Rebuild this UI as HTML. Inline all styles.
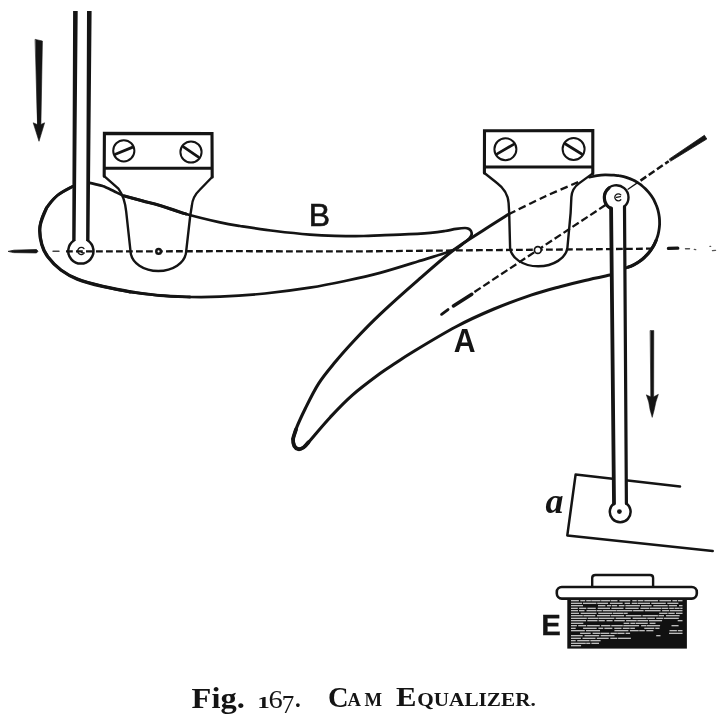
<!DOCTYPE html>
<html><head><meta charset="utf-8"><title>Fig. 167. Cam Equalizer</title>
<style>html,body{margin:0;padding:0;background:#fff}svg{display:block;will-change:transform}</style></head>
<body>
<svg width="724" height="715" viewBox="0 0 724 715">
<g fill="none" stroke="#141414" stroke-width="2.4" stroke-linecap="round" stroke-linejoin="round">
<path d="M72.7,186.4 C70.1,187.9 61.7,191.9 57.3,195.5 C52.9,199.1 49.3,203.0 46.4,208.2 C43.5,213.3 40.8,220.3 40.0,226.4 C39.2,232.5 40.4,239.3 41.8,244.5 C43.2,249.7 45.0,253.1 48.2,257.3 C51.4,261.6 56.0,266.4 60.9,270.0 C65.8,273.6 70.3,276.4 77.3,279.1 C84.3,281.8 93.9,284.3 102.7,286.4 C111.5,288.5 120.5,290.3 130.0,291.8 C139.6,293.3 150.0,294.6 160.0,295.5 C170.0,296.4 180.0,296.8 190.0,297.0 C200.0,297.2 207.5,297.3 220.0,296.7 C232.5,296.1 250.0,295.0 265.0,293.5 C280.0,292.0 296.5,289.8 309.8,287.7 C323.1,285.6 333.3,283.5 345.0,281.0 C356.7,278.5 367.9,276.1 380.0,272.9 C392.1,269.6 405.6,265.3 417.8,261.5 C430.0,257.7 445.5,253.2 453.0,250.2 C460.5,247.2 460.3,245.6 463.0,243.6 C465.7,241.6 467.9,239.8 469.3,238.3 C470.7,236.8 471.3,235.8 471.6,234.6 C471.9,233.4 471.5,232.0 471.0,231.0 C470.5,230.0 469.6,229.2 468.6,228.7 C467.6,228.2 467.1,228.0 465.0,228.0 C462.9,228.0 459.5,228.4 456.2,228.9 C452.9,229.4 449.3,230.3 445.0,231.0 C440.7,231.7 437.9,232.2 430.4,232.8 C422.9,233.4 408.4,234.2 400.0,234.6 C391.6,235.0 386.1,235.1 380.0,235.3 C373.9,235.5 371.1,235.9 363.6,236.0 C356.1,236.1 344.0,236.0 335.0,235.8 C326.0,235.6 319.8,235.4 309.8,234.6 C299.8,233.8 286.6,232.4 275.0,231.0 C263.4,229.6 249.2,227.4 240.0,226.0 C230.8,224.6 229.0,224.4 220.0,222.4 C211.0,220.4 196.0,216.8 186.0,214.0 C176.0,211.2 167.2,207.7 160.0,205.5 C152.8,203.3 148.6,202.5 142.7,200.9 C136.8,199.3 129.3,197.8 124.5,196.1 C119.7,194.4 117.2,192.7 113.6,191.0 C110.0,189.3 105.8,187.2 102.7,186.1 C99.6,184.9 97.4,184.7 95.0,184.1 C92.6,183.5 89.3,182.9 88.2,182.7" stroke-width="2.7"/>
<path d="M46.4,208.2 C45.3,211.2 40.8,220.3 40.0,226.4 C39.2,232.5 40.4,239.3 41.8,244.5 C43.2,249.7 45.0,253.1 48.2,257.3 C51.4,261.6 56.0,266.4 60.9,270.0 C65.8,273.6 70.3,276.4 77.3,279.1 C84.3,281.8 93.9,284.3 102.7,286.4 C111.5,288.5 125.5,290.9 130.0,291.8" stroke-width="3.3"/>
<path d="M72.7,186.4 C70.1,187.9 61.7,191.9 57.3,195.5 C52.9,199.1 48.2,206.1 46.4,208.2" stroke-width="2.9"/>
<path d="M130.0,291.8 C135.0,292.4 150.0,294.6 160.0,295.5 C170.0,296.4 185.0,296.8 190.0,297.0" stroke-width="2.9"/>
<path d="M186.0,214.0 C181.7,212.6 167.2,207.7 160.0,205.5 C152.8,203.3 148.6,202.5 142.7,200.9 C136.8,199.3 127.5,196.9 124.5,196.1" stroke-width="3.1"/>
<path d="M293.1,439.0 C293.7,437.0 294.8,432.2 296.8,427.2 C298.8,422.2 301.6,416.1 305.2,408.8 C308.8,401.5 313.6,391.4 318.6,383.6 C323.6,375.8 329.4,369.1 335.4,361.8 C341.4,354.5 347.3,347.9 354.7,340.0 C362.1,332.1 369.5,324.3 380.0,314.4 C390.5,304.5 405.6,291.0 417.8,280.4 C430.0,269.8 441.7,259.1 453.0,250.5 C464.3,241.9 476.4,234.8 485.7,228.8 C495.0,222.8 504.8,216.7 508.6,214.3" stroke-width="3.1"/>
<path d="M508.6,214.3 C514.7,211.3 533.3,201.9 545.0,196.5 C556.7,191.1 573.3,184.2 579.0,181.8" stroke-dasharray="7.5 4" stroke-width="2.3" stroke-linecap="butt"/>
<path d="M589.5,177.2 C590.8,176.9 594.4,176.0 597.0,175.6 C599.6,175.2 602.2,174.9 605.0,174.8 C607.8,174.7 611.6,175.1 613.9,175.2 C616.2,175.4 617.2,175.4 618.8,175.7 C620.4,175.9 622.1,176.2 623.7,176.6 C625.3,177.0 626.9,177.5 628.4,178.1 C630.0,178.6 631.5,179.3 633.0,180.0 C634.5,180.7 635.9,181.5 637.3,182.4 C638.7,183.3 640.1,184.2 641.4,185.2 C642.7,186.3 643.9,187.4 645.1,188.5 C646.3,189.7 647.4,190.9 648.5,192.1 C649.6,193.4 650.6,194.7 651.5,196.1 C652.4,197.5 653.3,198.9 654.1,200.3 C654.8,201.8 655.5,203.3 656.1,204.8 C656.8,206.4 657.3,207.9 657.8,209.5 C658.2,211.1 658.6,212.7 658.9,214.4 C659.2,216.0 659.4,217.6 659.5,219.3 C659.6,220.9 659.6,222.6 659.6,224.3 C659.5,225.9 659.4,227.6 659.1,229.2 C658.9,230.8 658.6,232.5 658.2,234.1 C657.8,235.7 657.3,237.3 656.7,238.8 C656.2,240.4 655.5,241.9 654.8,243.4 C654.1,244.9 653.3,246.3 652.4,247.7 C651.5,249.1 650.6,250.5 649.6,251.8 C648.5,253.1 647.4,254.3 646.3,255.5 C645.1,256.7 643.9,257.8 642.7,258.9 C641.4,260.0 640.1,261.0 638.7,261.9 C637.3,262.8 635.9,263.7 634.5,264.5 C633.0,265.2 631.5,265.9 630.0,266.5 C628.4,267.2 626.0,267.9 625.3,268.2" stroke-width="2.8"/>
<path d="M656.1,240.4 C655.8,241.1 654.8,243.4 654.1,244.9 C653.3,246.3 652.4,247.7 651.5,249.1 C650.6,250.5 649.6,251.8 648.5,253.1 C647.4,254.3 646.3,255.5 645.1,256.7 C643.9,257.8 642.7,258.9 641.4,260.0 C640.1,261.0 638.7,261.9 637.3,262.8 C635.9,263.7 634.5,264.5 633.0,265.2 C631.5,265.9 629.2,266.8 628.4,267.1" stroke-width="3.2"/>
<path d="M610.0,275.0 C605.8,275.9 593.3,278.4 585.0,280.4 C576.7,282.3 569.0,284.2 560.0,286.7 C551.0,289.1 542.1,291.3 531.0,295.1 C519.9,298.9 505.9,304.0 493.3,309.3 C480.7,314.6 468.9,319.9 455.5,327.0 C442.1,334.1 422.6,346.0 412.7,352.0 C402.8,358.0 401.4,359.2 396.0,362.8 C390.6,366.4 387.3,368.2 380.0,373.6 C372.7,379.0 360.4,388.1 352.1,395.4 C343.8,402.7 337.6,409.4 330.3,417.2 C323.0,425.0 313.0,437.2 308.5,442.3 C304.0,447.4 305.2,446.4 303.5,447.5 C301.8,448.6 300.0,449.4 298.5,449.2 C297.0,448.9 295.2,447.7 294.3,446.0 C293.4,444.3 293.3,440.2 293.1,439.0" stroke-width="3.1"/>
<path d="M296.0,429.5 C295.5,431.1 293.4,436.2 293.1,439.0 C292.8,441.8 293.4,444.3 294.3,446.0 C295.2,447.7 297.0,448.9 298.5,449.2 C300.0,449.4 301.8,448.6 303.5,447.5 C305.2,446.4 307.7,443.2 308.5,442.3" stroke-width="3.8"/>
<path d="M104.2,176.2 L104.4,133.4 L212,133.6 L212.2,177 M104.2,168.2 L212.2,168.2" stroke-width="3.1" stroke-linejoin="miter"/>
<path d="M212.2,177 L199.6,190 C194.3,195 192.3,200 191.8,206 L190.2,216 L186,252.8 C184.5,263 173,271 158.3,271 C143.5,271 132,263 130.7,252.8 L126.2,211.7 C125.4,203.5 123,195 118.4,188.6 L104.2,176.2" stroke-width="2.4"/>
<path d="M484.4,173 L484.5,130.8 L592.8,130.6 L592.8,173.4 M484.4,167 L592.8,167" stroke-width="3.1" stroke-linejoin="miter"/>
<path d="M592.8,173.4 L579,183.4 C574,187 571.8,191 571.4,197 L570.6,213.2 L567.4,247.8 C566.2,258 553.5,266.3 538.2,266.3 C523,266.3 511,258 510.1,247.8 L509.2,213.2 L508.6,203 C508,194 503,187.5 496.7,182.8 L484.4,173" stroke-width="2.4"/>
<circle cx="123.8" cy="150.8" r="10.6" stroke-width="2"/><path d="M115.4,154.2 L132.2,147.4" stroke-width="2.8"/>
<circle cx="191.0" cy="152.0" r="10.6" stroke-width="2"/><path d="M183.5,146.8 L198.5,157.2" stroke-width="2.8"/>
<circle cx="505.4" cy="149.2" r="11.0" stroke-width="2"/><path d="M497.2,153.9 L513.6,144.4" stroke-width="2.8"/>
<circle cx="573.6" cy="149.0" r="11.0" stroke-width="2"/><path d="M565.5,144.0 L581.7,154.0" stroke-width="2.8"/>
<path d="M680,486.5 L575.6,474.6 L567.3,535.4 L712.7,551" stroke-width="2.5"/>
<path d="M75.4,11 L73.9,240.5 A12.6,12.6 0 1 0 87.8,240.5 L89.3,11 Z" fill="#fff" stroke="none"/>
<path d="M73.1,11 L77.7,11 L75.6,241 L72.2,241 Z M87,11 L91.6,11 L89.5,241 L86.1,241 Z" fill="#141414" stroke="none"/>
<path d="M73.9,240.5 A12.6,12.6 0 1 0 87.8,240.5" stroke-width="2.5"/>
<path d="M84,248.6 A3.6,3.6 0 1 0 84.3,253 L81.5,252.6" stroke-width="1.3"/>
<path d="M614,503.5 L611.1,208.5 A12.2,12.2 0 1 1 624.5,206.5 L626.4,503.5 A10.4,10.4 0 1 1 614,503.5 Z" fill="#fff" stroke="none"/>
<path d="M611.1,208.5 L614,503.5" stroke-width="3.8"/>
<path d="M624.5,206.5 L626.4,503.5" stroke-width="3.2"/>
<path d="M611.1,208.5 A12.2,12.2 0 1 1 624.5,206.5" stroke-width="2.4"/>
<path d="M611.1,208.5 A12.2,12.2 0 0 1 609,188" stroke-width="3.2"/>
<path d="M614,503.5 A10.4,10.4 0 1 0 626.4,503.5" stroke-width="2.5"/>
<path d="M620.8,194.9 A3.5,3.5 0 1 0 620.8,199.8 M616.5,197.4 L620.4,196.6" stroke-width="1.3"/>
<circle cx="619.4" cy="511.6" r="2.4" fill="#141414" stroke="none"/>
<path d="M8.5,251.3 L14,250.2 L36.5,249.6 L38,251.2 L36.5,252.9 L14,252.6 Z" fill="#141414" stroke-width="0.8"/>
<path d="M53,251.3 L59,251.3" stroke-width="1.4" stroke="#444"/>
<path d="M66,251.4 L230,251.2 L360,251.4 L480,250.2 L590,249.3 L655,248.6" stroke-dasharray="6.8 3.2" stroke-width="2.3" stroke-linecap="butt"/>
<path d="M668.4,248.4 L677.8,248.2" stroke-width="3.2"/>
<path d="M685.5,248.8 L689.5,248.8 M694.3,249.4 L695.7,249.6 M710,246.4 L710.6,246.4 M712.5,250.6 L715.5,250.4" stroke-width="1.4" stroke="#555"/>
<path d="M441.6,314.3 L448,309.6" stroke-width="2.9"/>
<path d="M453.4,305.9 L471.8,294.3" stroke-width="3.5"/>
<path d="M474.4,292 L607,204" stroke-dasharray="7.5 3.2" stroke-width="2.3" stroke-linecap="butt"/>
<path d="M628,189.2 L638,182.4" stroke-width="1.3"/>
<path d="M640.5,180.6 L668.7,161.2" stroke-dasharray="7 3" stroke-width="2.5" stroke-linecap="butt"/>
<path d="M669.5,158.9 L704.4,135.3 L706.8,139 L670.9,161 Z" fill="#141414" stroke-width="0.8"/>
<circle cx="158.6" cy="251.4" r="2.3" stroke-width="2.5" fill="#fff"/>
<circle cx="537.8" cy="250" r="3.4" stroke-width="1.7" fill="#fff"/>
<path d="M35.4,39.4 L42.4,41 L40.9,124.5 L44.6,122.8 L39,141.3 L33.2,122.8 L37.2,124.5 Z" fill="#141414" stroke-width="0.6"/>
<path d="M650.4,330.5 L653.8,330.5 L653.7,396.8 L658.4,394.3 L655.9,402 L654.2,410 L652.2,417.4 L650.1,410 L648.7,402 L646.3,394.8 L650.6,396.8 Z" fill="#141414" stroke-width="0.5"/>
<path d="M614,503.5 L613.6,476 M626.4,503.5 L626.1,476" stroke="#fff" stroke-width="0"/>
</g>
<g>
<rect x="567.3" y="598" width="119.6" height="50.6" fill="#111"/>
<path d="M571.0,600.7 L578.9,600.7 M580.3,600.7 L585.2,600.7 M586.2,600.7 L590.9,600.7 M591.3,600.7 L600.5,600.7 M601.1,600.7 L610.2,600.7 M610.8,600.7 L617.5,600.7 M619.4,600.7 L630.3,600.7 M632.3,600.7 L636.8,600.7 M637.7,600.7 L643.4,600.7 M644.3,600.7 L658.1,600.7 M659.4,600.7 L671.1,600.7 M672.4,600.7 L677.1,600.7 M677.9,600.7 L682.5,600.7 M571.0,603.2 L582.0,603.2 M582.9,603.2 L596.4,603.2 M597.2,603.2 L608.1,603.2 M609.9,603.2 L622.7,603.2 M624.6,603.2 L630.1,603.2 M631.7,603.2 L637.5,603.2 M638.0,603.2 L650.0,603.2 M651.3,603.2 L665.8,603.2 M667.3,603.2 L678.4,603.2 M571.0,605.7 L583.0,605.7 M598.0,605.7 L605.4,605.7 M606.9,605.7 L611.1,605.7 M611.8,605.7 L617.2,605.7 M618.8,605.7 L624.4,605.7 M625.4,605.7 L639.9,605.7 M641.0,605.7 L651.6,605.7 M653.3,605.7 L667.7,605.7 M668.7,605.7 L677.0,605.7 M679.0,605.7 L682.5,605.7 M571.0,608.2 L577.8,608.2 M579.1,608.2 L586.3,608.2 M587.4,608.2 L595.8,608.2 M597.7,608.2 L610.0,608.2 M611.4,608.2 L623.5,608.2 M625.3,608.2 L638.7,608.2 M640.4,608.2 L649.1,608.2 M649.7,608.2 L661.3,608.2 M661.8,608.2 L668.3,608.2 M669.2,608.2 L673.9,608.2 M674.5,608.2 L679.7,608.2 M680.2,608.2 L682.5,608.2 M571.0,610.7 L578.0,610.7 M579.0,610.7 L584.5,610.7 M586.5,610.7 L596.1,610.7 M596.6,610.7 L601.8,610.7 M602.7,610.7 L616.6,610.7 M617.0,610.7 L632.4,610.7 M633.1,610.7 L643.6,610.7 M644.8,610.7 L660.6,610.7 M662.1,610.7 L669.2,610.7 M669.9,610.7 L682.5,610.7 M571.0,613.2 L579.0,613.2 M580.7,613.2 L596.5,613.2 M598.2,613.2 L612.0,613.2 M612.7,613.2 L623.0,613.2 M623.4,613.2 L627.7,613.2 M659.2,613.2 L667.5,613.2 M668.3,613.2 L674.7,613.2 M676.0,613.2 L682.5,613.2 M571.0,615.7 L582.8,615.7 M583.4,615.7 L595.3,615.7 M597.0,615.7 L610.0,615.7 M610.6,615.7 L624.1,615.7 M625.8,615.7 L641.4,615.7 M642.5,615.7 L657.9,615.7 M658.5,615.7 L664.0,615.7 M665.9,615.7 L679.6,615.7 M571.0,618.2 L586.8,618.2 M587.7,618.2 L598.3,618.2 M598.7,618.2 L614.4,618.2 M615.6,618.2 L630.8,618.2 M632.6,618.2 L646.5,618.2 M647.3,618.2 L654.9,618.2 M656.2,618.2 L663.3,618.2 M663.9,618.2 L678.8,618.2 M571.0,620.7 L586.0,620.7 M587.3,620.7 L597.5,620.7 M598.6,620.7 L604.8,620.7 M606.5,620.7 L612.6,620.7 M614.2,620.7 L624.8,620.7 M626.1,620.7 L636.7,620.7 M637.3,620.7 L648.0,620.7 M648.9,620.7 L662.1,620.7 M677.7,620.7 L682.5,620.7 M571.0,623.2 L583.3,623.2 M623.6,623.2 L629.3,623.2 M630.4,623.2 L635.2,623.2 M635.8,623.2 L647.8,623.2 M649.6,623.2 L655.5,623.2 M571.0,625.7 L576.9,625.7 M578.2,625.7 L586.2,625.7 M587.1,625.7 L599.8,625.7 M601.1,625.7 L610.4,625.7 M611.3,625.7 L622.8,625.7 M623.3,625.7 L639.1,625.7 M641.1,625.7 L646.3,625.7 M646.8,625.7 L660.1,625.7 M671.5,625.7 L678.6,625.7 M571.0,628.2 L575.7,628.2 M583.1,628.2 L596.7,628.2 M598.4,628.2 L603.2,628.2 M604.4,628.2 L612.4,628.2 M614.3,628.2 L621.5,628.2 M622.8,628.2 L629.6,628.2 M630.3,628.2 L634.9,628.2 M644.3,628.2 L654.3,628.2 M655.3,628.2 L659.5,628.2 M571.0,630.7 L584.8,630.7 M586.0,630.7 L600.0,630.7 M614.4,630.7 L628.4,630.7 M629.9,630.7 L638.7,630.7 M639.2,630.7 L644.8,630.7 M646.3,630.7 L653.4,630.7 M669.5,630.7 L676.9,630.7 M677.8,630.7 L682.5,630.7 M580.1,633.2 L590.7,633.2 M592.6,633.2 L600.3,633.2 M600.7,633.2 L609.3,633.2 M610.5,633.2 L616.9,633.2 M617.3,633.2 L624.5,633.2 M625.6,633.2 L630.1,633.2 M669.0,633.2 L682.5,633.2 M571.0,635.7 L582.7,635.7 M584.5,635.7 L599.2,635.7 M600.7,635.7 L614.5,635.7 M656.2,635.7 L660.5,635.7 M571.0,638.2 L580.9,638.2 M582.5,638.2 L595.5,638.2 M596.8,638.2 L608.7,638.2 M610.3,638.2 L617.3,638.2 M618.1,638.2 L630.9,638.2 M571.0,640.7 L575.7,640.7 M577.2,640.7 L589.5,640.7 M590.4,640.7 L600.6,640.7 M571.0,643.2 L585.8,643.2 M586.2,643.2 L590.3,643.2 M591.4,643.2 L599.0,643.2 M571.0,645.7 L581.1,645.7 " stroke="#f6f6f6" stroke-width="1.15" fill="none" stroke-linecap="butt"/>
<path d="M592.2,587 L592.2,578 Q592.2,575 595.5,575 L650,575 Q653.1,575 653.1,578 L653.1,587" fill="#fff" stroke="#141414" stroke-width="2.4"/>
<rect x="556.8" y="587" width="140" height="11.6" rx="5" fill="#fff" stroke="#141414" stroke-width="2.6"/>
</g>
<g fill="#141414" stroke="#141414" font-family="'Liberation Sans', sans-serif">
<text x="308.7" y="225.5" font-size="30.6" stroke-width="0.6" textLength="21.3" lengthAdjust="spacingAndGlyphs">B</text>
<text x="453.8" y="351.9" font-size="32.6" font-weight="bold" stroke="none" textLength="21.8" lengthAdjust="spacingAndGlyphs">A</text>
<text x="541.3" y="635.2" font-size="29.8" font-weight="bold" stroke-width="0.3" textLength="19.6" lengthAdjust="spacingAndGlyphs">E</text>
<text x="545.6" y="512.7" font-size="36.5" font-style="italic" font-weight="bold" stroke="none" font-family="'Liberation Serif', serif" textLength="18" lengthAdjust="spacingAndGlyphs">a</text>
</g>
<g fill="#141414" font-family="'Liberation Serif', serif" font-weight="bold">
<text x="191.6" y="707.7" font-size="28.8" textLength="53.2" lengthAdjust="spacingAndGlyphs">Fig.</text>
<text transform="translate(257.2,707.8) scale(1.45,1)" font-size="17.3">1</text>
<text transform="translate(268.4,707.8) scale(1.12,1)" font-size="25.5" font-weight="normal">6</text>
<text transform="translate(281.8,713) scale(1.02,1)" font-size="24.5" font-weight="normal">7</text>
<text x="295" y="707" font-size="23">.</text>
<text y="707.2"><tspan x="328" font-size="28.5">C</tspan><tspan x="347.4" y="705.8" font-size="18.6" letter-spacing="3.6">AM</tspan></text>
<text y="706.4"><tspan x="396" font-size="27" textLength="20.5" lengthAdjust="spacingAndGlyphs">E</tspan><tspan x="417.3" y="705.9" font-size="18" textLength="118.5" lengthAdjust="spacingAndGlyphs">QUALIZER.</tspan></text>
</g>
</svg>
</body></html>
